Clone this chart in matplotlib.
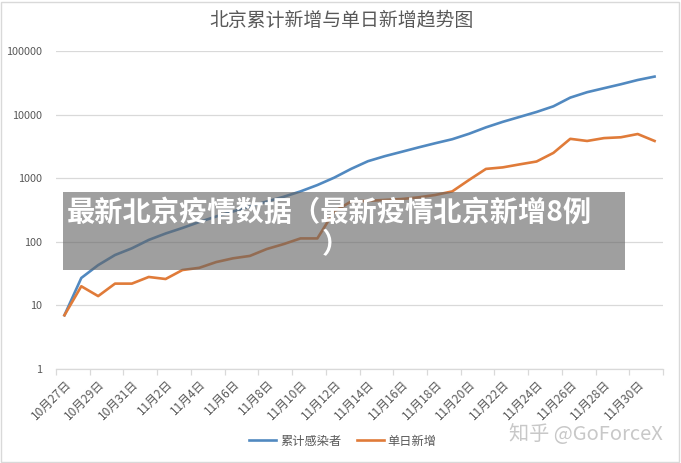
import matplotlib
matplotlib.use("Agg")
import matplotlib.pyplot as plt
from matplotlib.patches import Rectangle
from matplotlib.ticker import FixedLocator, NullFormatter
import numpy as np

plt.rcParams["font.family"] = ["Noto Sans CJK SC", "DejaVu Sans"]

# 10月27日 .. 12月1日
dates = ["10月27日", "10月28日", "10月29日", "10月30日", "10月31日"] + \
        [f"11月{d}日" for d in range(1, 31)] + ["12月1日"]

cumulative = [7, 27, 43, 62, 79, 107, 135, 165, 205, 250, 300, 360, 430, 510,
              620, 780, 1020, 1400, 1850, 2220, 2600, 3050, 3550, 4100, 5000,
              6300, 7700, 9200, 11000, 13500, 18500, 22500, 26000, 30000,
              35000, 39600]
daily = [7, 20, 14, 22, 22, 28, 26, 36, 39, 48, 55, 60, 77, 92, 113, 113,
         300, 430, 440, 455, 470, 500, 545, 620, 940, 1400, 1480, 1650, 1830,
         2500, 4160, 3850, 4270, 4400, 4950, 3850]

title = "北京累计新增与单日新增趋势图"
banner = "最新北京疫情数据（最新疫情北京新增8例"

blue = "#5189c0"
orange = "#e07b39"
text_grey = "#595959"
grid_grey = "#d9d9d9"

fig = plt.figure(figsize=(6.81, 4.63), dpi=100)
ax = fig.add_axes([56 / 681, 1 - 369 / 463, 607 / 681, 318 / 463])

x = np.arange(len(dates))
ax.plot(x, cumulative, color=blue, lw=1.9, label="累计感染者", solid_joinstyle="round")
ax.plot(x, daily, color=orange, lw=1.9, label="单日新增", solid_joinstyle="round")

ax.set_yscale("log")
ax.set_ylim(1, 100000)
ax.set_xlim(-0.5, len(dates) - 0.5)
ax.yaxis.set_major_locator(FixedLocator([1, 10, 100, 1000, 10000, 100000]))
ax.yaxis.set_minor_locator(FixedLocator([]))
ax.set_yticklabels(["1", "10", "100", "1000", "10000", "100000"])
ax.tick_params(axis="y", length=0, labelsize=7.8, labelcolor=text_grey, pad=10)
ax.grid(axis="y", color=grid_grey, lw=0.9)

ax.set_xticks(x[::2])
ax.set_xticklabels(dates[::2], rotation=45, ha="right", va="top",
                   rotation_mode="anchor")
ax.xaxis.set_minor_locator(FixedLocator(np.arange(-0.5, len(dates), 2)))
ax.xaxis.set_minor_formatter(NullFormatter())
ax.tick_params(axis="x", which="major", length=0, labelsize=8.6,
               labelcolor=text_grey, pad=6)
ax.tick_params(axis="x", which="minor", length=4, color=grid_grey, width=0.9)

for s in ["top", "right", "left"]:
    ax.spines[s].set_visible(False)
ax.spines["bottom"].set_color(grid_grey)
ax.spines["bottom"].set_linewidth(0.9)
ax.set_axisbelow(True)

fig.text(341 / 681, 1 - 21 / 463, title, ha="center", va="center",
         fontsize=13.6, color=text_grey)

fig.legend(loc="center", bbox_to_anchor=(343 / 681, 1 - 441 / 463), ncol=2,
           frameon=False, fontsize=8.8, labelcolor=text_grey,
           handlelength=2.2, columnspacing=1.3, handletextpad=0.3)

# grey overlay banner
fig.patches.append(Rectangle((63 / 681, 1 - 270 / 463), 562 / 681, 78 / 463,
                             transform=fig.transFigure, facecolor="#646464",
                             alpha=0.62, edgecolor="none", zorder=5))
fig.text(329 / 681, 1 - 213 / 463, banner, ha="center", va="center",
         fontsize=20.3, fontweight="bold", color="white", zorder=6)
fig.text(336 / 681, 1 - 245 / 463, "）", ha="center", va="center",
         fontsize=20.3, fontweight="bold", color="white", zorder=6)

fig.text(663 / 681, 1 - 435 / 463, "知乎 @GoForceX", ha="right", va="center",
         fontsize=14.5, color="#c8c8c8", zorder=6)

fig.patches.append(Rectangle((1 / 681, 1 / 463), 678 / 681, 460 / 463,
                             transform=fig.transFigure, facecolor="none",
                             edgecolor=grid_grey, lw=1))

fig.savefig("out.png", dpi=100)
